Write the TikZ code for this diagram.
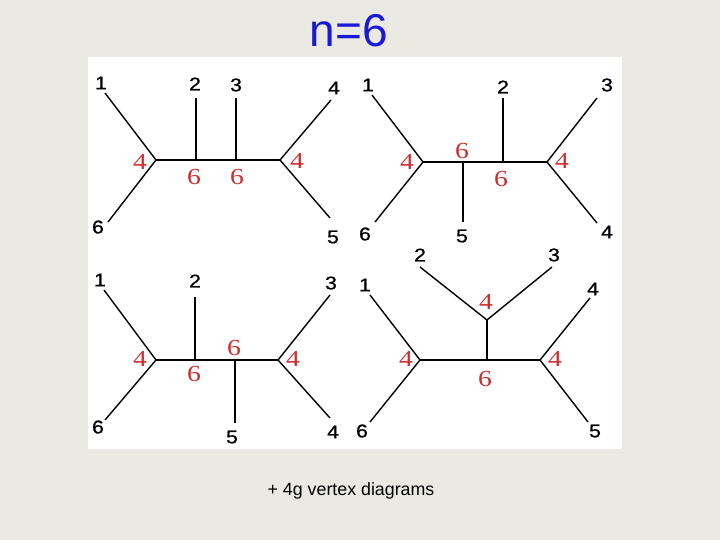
\documentclass[tikz,border=0pt]{standalone}
\usepackage{fontspec}
\setmainfont{Liberation Sans}
\newfontfamily\serifnum[FakeStretch=1.2]{Liberation Serif}
\newfontfamily\leaffont[FakeStretch=1.15,FakeBold=0.8]{Liberation Sans}
\definecolor{bgcol}{RGB}{234,234,226}
\definecolor{redlab}{RGB}{205,45,45}
\definecolor{bluetitle}{RGB}{25,25,215}
\tikzset{
  leg/.style={line width=1.4pt, black},
  leaf/.style={inner sep=0pt, font=\leaffont\fontsize{18.5}{18.5}\selectfont},
  wt/.style={inner sep=0pt, text=redlab, font=\serifnum\fontsize{23}{23}\selectfont},
}
\begin{document}
\begin{tikzpicture}[x=1pt,y=-1pt]
\useasboundingbox (0,0) rectangle (720,540);
\fill[bgcol] (0,0) rectangle (720,540);
\fill[white] (88,57) rectangle (622,449);
\node[text=bluetitle, inner sep=0pt, font=\fontsize{46}{46}\selectfont] (title) at (349,31) {n=6};
\node[inner sep=0pt, font=\fontsize{17.8}{17.8}\selectfont] (note) at (351,491) {+ 4g vertex diagrams};

% ---------- diagram 1 (top left)
\coordinate (a-L) at (156,160);
\coordinate (a-R) at (280,160);
\coordinate (a-p) at (196,160);
\coordinate (a-q) at (236,160);
\coordinate (a-e1) at (105,93);
\coordinate (a-e6) at (108,222);
\coordinate (a-e2) at (196,98);
\coordinate (a-e3) at (236,98);
\coordinate (a-e4) at (331,100);
\coordinate (a-e5) at (330,218);
\draw[leg] (a-e1) -- (a-L) -- (a-e6);
\draw[leg] (a-L) -- (a-R);
\draw[leg] (a-p) -- (a-e2);
\draw[leg] (a-q) -- (a-e3);
\draw[leg] (a-e4) -- (a-R) -- (a-e5);
\node[leaf] (a-n1) at (101,83) {1};
\node[leaf] (a-n6) at (98,227) {6};
\node[leaf] (a-n2) at (195,84) {2};
\node[leaf] (a-n3) at (236,85) {3};
\node[leaf] (a-n4) at (334,88) {4};
\node[leaf] (a-n5) at (333,237) {5};
\node[wt] (a-w1) at (140,162) {4};
\node[wt] (a-w2) at (194,177) {6};
\node[wt] (a-w3) at (237,177) {6};
\node[wt] (a-w4) at (297,161) {4};

% ---------- diagram 2 (top right)
\coordinate (b-L) at (423,162);
\coordinate (b-R) at (547,162);
\coordinate (b-p) at (463,162);
\coordinate (b-q) at (503,162);
\coordinate (b-e1) at (372,95);
\coordinate (b-e6) at (375,222);
\coordinate (b-e5) at (463,222);
\coordinate (b-e2) at (503,98);
\coordinate (b-e3) at (597,98);
\coordinate (b-e4) at (597,223);
\draw[leg] (b-e1) -- (b-L) -- (b-e6);
\draw[leg] (b-L) -- (b-R);
\draw[leg] (b-p) -- (b-e5);
\draw[leg] (b-q) -- (b-e2);
\draw[leg] (b-e3) -- (b-R) -- (b-e4);
\node[leaf] (b-n1) at (368,85) {1};
\node[leaf] (b-n6) at (365,234) {6};
\node[leaf] (b-n5) at (462,236) {5};
\node[leaf] (b-n2) at (503,87) {2};
\node[leaf] (b-n3) at (607,85) {3};
\node[leaf] (b-n4) at (607,232) {4};
\node[wt] (b-w1) at (407,162) {4};
\node[wt] (b-w2) at (462,151) {6};
\node[wt] (b-w3) at (501,179) {6};
\node[wt] (b-w4) at (562,161) {4};

% ---------- diagram 3 (bottom left)
\coordinate (c-L) at (156,360);
\coordinate (c-R) at (278,360);
\coordinate (c-p) at (195,360);
\coordinate (c-q) at (235,360);
\coordinate (c-e1) at (104,290);
\coordinate (c-e6) at (105,420);
\coordinate (c-e2) at (195,297);
\coordinate (c-e5) at (235,423);
\coordinate (c-e3) at (330,295);
\coordinate (c-e4) at (330,418);
\draw[leg] (c-e1) -- (c-L) -- (c-e6);
\draw[leg] (c-L) -- (c-R);
\draw[leg] (c-p) -- (c-e2);
\draw[leg] (c-q) -- (c-e5);
\draw[leg] (c-e3) -- (c-R) -- (c-e4);
\node[leaf] (c-n1) at (100,280) {1};
\node[leaf] (c-n6) at (98,427) {6};
\node[leaf] (c-n2) at (195,281) {2};
\node[leaf] (c-n5) at (232,437) {5};
\node[leaf] (c-n3) at (331,283) {3};
\node[leaf] (c-n4) at (333,432) {4};
\node[wt] (c-w1) at (140,359) {4};
\node[wt] (c-w2) at (194,374) {6};
\node[wt] (c-w3) at (234,348) {6};
\node[wt] (c-w4) at (293,359) {4};

% ---------- diagram 4 (bottom right)
\coordinate (d-T) at (487,320);
\coordinate (d-M) at (487,360);
\coordinate (d-L) at (420,360);
\coordinate (d-R) at (540,360);
\coordinate (d-e2) at (420,267);
\coordinate (d-e3) at (552,267);
\coordinate (d-e1) at (370,295);
\coordinate (d-e6) at (370,422);
\coordinate (d-e4) at (590,298);
\coordinate (d-e5) at (588,422);
\draw[leg] (d-e2) -- (d-T) -- (d-e3);
\draw[leg] (d-T) -- (d-M);
\draw[leg] (d-L) -- (d-R);
\draw[leg] (d-e1) -- (d-L) -- (d-e6);
\draw[leg] (d-e4) -- (d-R) -- (d-e5);
\node[leaf] (d-n2) at (420,255) {2};
\node[leaf] (d-n3) at (554,255) {3};
\node[leaf] (d-n1) at (365,285) {1};
\node[leaf] (d-n6) at (362,431) {6};
\node[leaf] (d-n4) at (593,289) {4};
\node[leaf] (d-n5) at (595,431) {5};
\node[wt] (d-w1) at (486,302) {4};
\node[wt] (d-w2) at (406,359) {4};
\node[wt] (d-w3) at (485,379) {6};
\node[wt] (d-w4) at (555,359) {4};
\end{tikzpicture}
\end{document}
